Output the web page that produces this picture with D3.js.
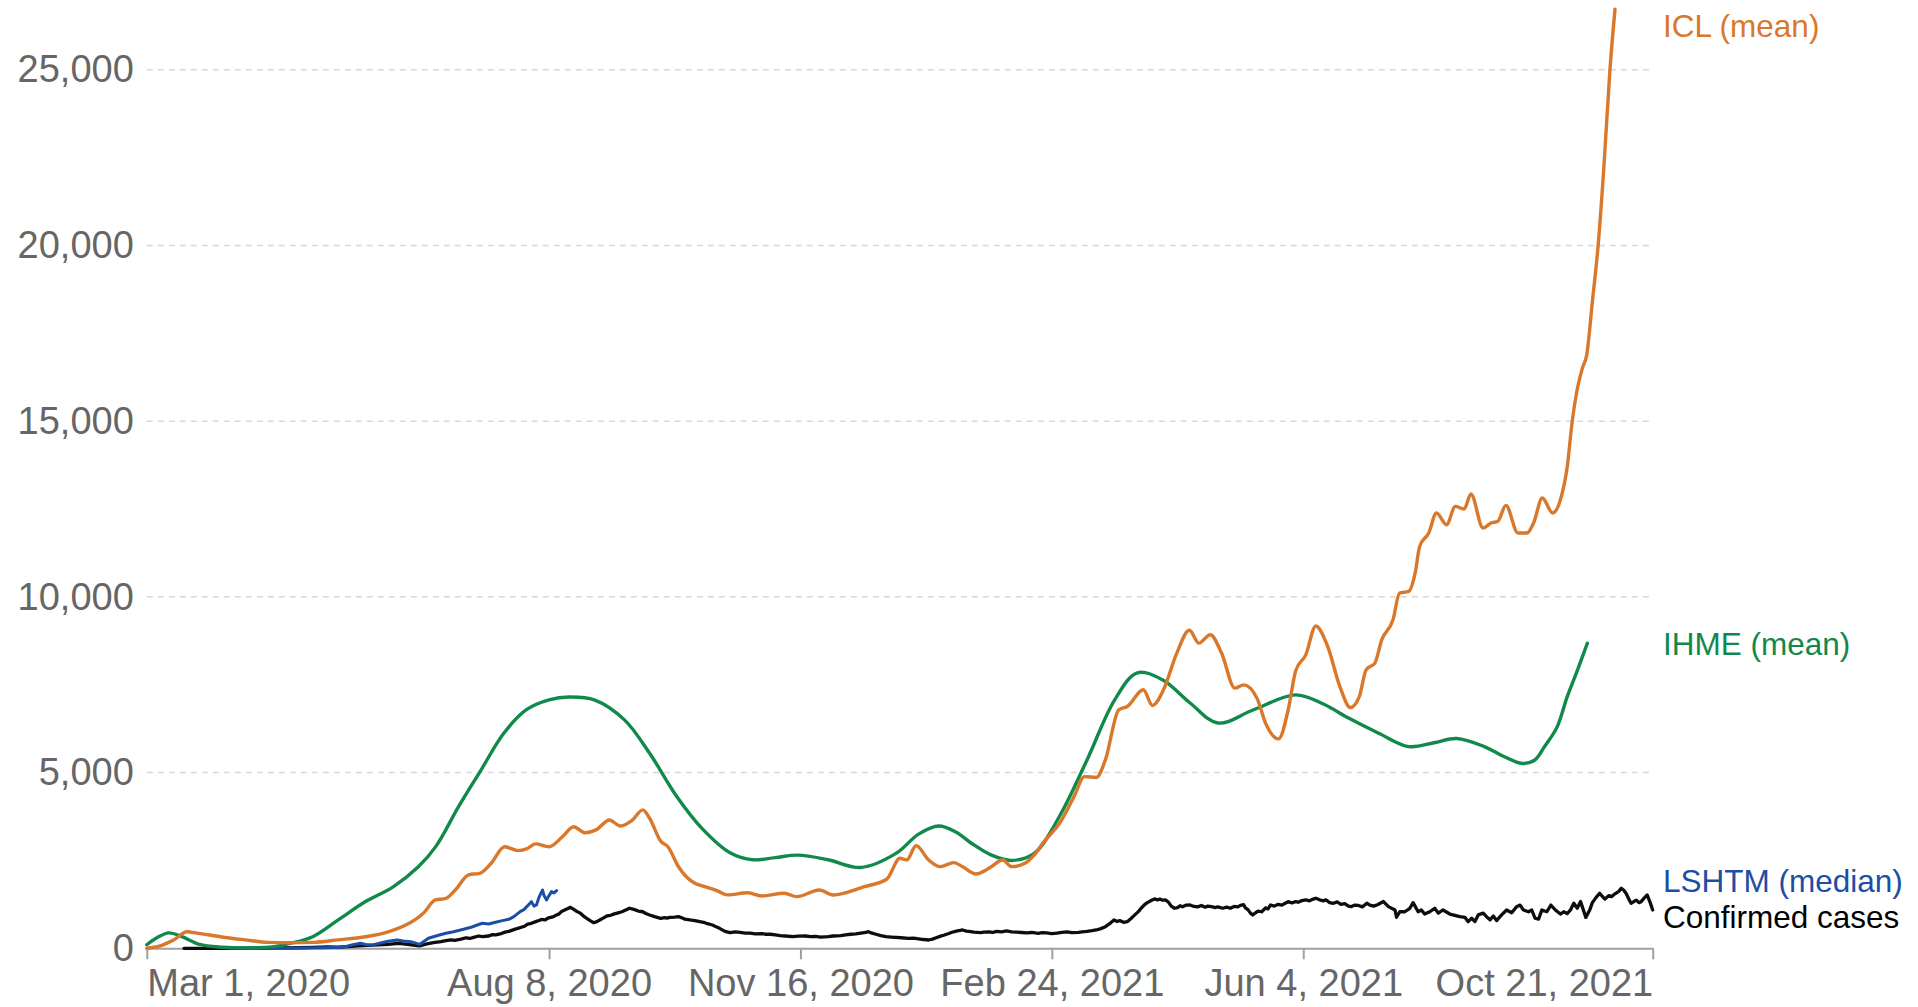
<!DOCTYPE html>
<html>
<head>
<meta charset="utf-8">
<script src="https://cdn.jsdelivr.net/npm/d3@7"></script>
<style>
  html, body { margin: 0; padding: 0; background: #fff; }
  svg { display: block; font-family: "Liberation Sans", Arial, sans-serif; }
</style>
</head>
<body>
<svg id="chart" width="1918" height="1007"></svg>
<script>
// ---- DATA: [day offset from Mar 1, 2020, value] ----
const startDate = new Date(2020, 2, 1);
const endDate = new Date(2021, 9, 21);

const yTicks = [0, 5000, 10000, 15000, 20000, 25000];
const xTickDates = ["2020-03-01", "2020-08-08", "2020-11-16", "2021-02-24", "2021-06-04", "2021-10-21"];
const xTickLabels = ["Mar 1, 2020", "Aug 8, 2020", "Nov 16, 2020", "Feb 24, 2021", "Jun 4, 2021", "Oct 21, 2021"];

const seriesNames = ["ICL (mean)", "IHME (mean)", "LSHTM (median)", "Confirmed cases"];

const icl = [[0,0],[5,60],[10.8,240],[16,470],[20,430],[25,380],[32,300],[39,240],[48,170],[57,160],[66,170],[76,240],[87,330],[96,470],[103,660],[110,1000],[114.8,1375],[119,1420],[122.7,1660],[128,2090],[132.5,2135],[137,2420],[142.3,2890],[147.6,2780],[151,2830],[154.7,2970],[160,2890],[165.4,3180],[169.8,3460],[174.2,3290],[178.7,3370],[184,3650],[188.4,3480],[192.9,3630],[197.3,3940],[200,3700],[204.4,3050],[207.3,2890],[211.5,2320],[218,1850],[220,1800],[226.8,1640],[231,1520],[239,1580],[244.5,1490],[253.5,1565],[258.6,1470],[267.6,1660],[273,1518],[285.4,1754],[294.3,1964],[299.6,2562],[302.3,2515],[306,2921],[311,2514],[315.6,2323],[321,2437],[324.5,2323],[329.8,2115],[335,2278],[340.5,2514],[344,2323],[349.3,2420],[353,2657],[356.4,2990],[363.5,3605],[368.8,4317],[373,4886],[377.7,4860],[381.3,5362],[386.6,6785],[390,6880],[396.4,7355],[400,6910],[404.4,7355],[409.7,8400],[414.7,9050],[418.5,8684],[423,8921],[427.5,8400],[432.8,7403],[436.3,7497],[441.6,7118],[445,6407],[450.2,5960],[454,6785],[457,7900],[461,8350],[465,9170],[469.5,8630],[474.8,7400],[478.7,6850],[482.3,7164],[485,7924],[488.5,8115],[491.2,8778],[495.7,9347],[498.3,10107],[501.9,10154],[504.5,10677],[506.3,11435],[509.9,11817],[513,12386],[517,12053],[520.5,12574],[524,12500],[526.7,12927],[531.5,11959],[534.7,12101],[537.4,12150],[540.6,12602],[545.4,11817],[549,11817],[551.6,12101],[555.1,12813],[559.2,12386],[562.3,12765],[565,13700],[567,15000],[568.7,15800],[571,16500],[572.8,16900],[575,18400],[577.3,20000],[579.6,22250],[582,25000],[584,26720]];

const ihme = [[0,100],[4,300],[8.7,440],[14,330],[21,110],[30,30],[39,10],[50,40],[57,140],[66,330],[76,800],[87,1330],[98,1750],[108,2320],[115,2900],[124,4030],[133,5080],[142,6120],[151,6790],[160,7070],[168,7150],[178,7070],[190,6500],[200,5550],[211,4300],[221,3400],[232,2720],[241,2520],[250,2580],[259,2650],[271,2520],[284,2300],[298,2700],[307,3250],[315,3480],[322,3300],[328,2990],[336,2650],[344,2500],[353,2700],[363,3750],[374,5360],[385,7070],[394,7840],[404,7640],[415,6980],[426,6410],[440,6780],[457,7210],[468,6950],[478,6550],[490,6120],[502,5740],[512,5850],[521,5970],[532,5740],[540,5450],[547,5260],[552,5350],[556,5740],[561,6300],[565,7160],[569,7900],[573,8680]];

const lshtm = [[40,0],[50,5],[60,10],[70,15],[78,30],[82,100],[85,145],[87,110],[89.5,90],[93,150],[96,200],[99.6,236],[102,210],[105,190],[108.5,110],[112,285],[116,370],[119,427],[122,470],[126,541],[129,600],[133.4,712],[136,690],[138.7,740],[141,780],[144,825],[146,900],[148.5,1043],[150,1100],[153,1327],[154,1200],[155,1233],[156,1450],[157.4,1660],[158,1500],[159,1375],[160,1500],[161,1613],[162,1580],[163,1640]];

const confirmed = [[14.8,0],[30,0],[45,5],[60,15],[66,25],[72,40],[76,35],[80,50],[84,70],[88,85],[92,95],[96,110],[100,140],[103,120],[106,90],[108.5,70],[111,120],[114,160],[117,190],[119,217],[121,240],[122.5,225],[125,260],[127,300],[128.5,280],[130,313],[132,350],[133.5,330],[136,350],[137.5,390],[138.7,380],[141,420],[142.5,460],[144,480],[146,530],[147.6,569],[149,600],[150,620],[151.5,690],[152.5,700],[154.7,758],[156,790],[157,820],[158.5,810],[159.5,860],[161.8,900],[163,950],[164,980],[165,1050],[166,1080],[167.5,1130],[168.5,1167],[170,1100],[171,1050],[172.5,996],[174,900],[175,850],[176.5,780],[177.8,729],[179,760],[180,800],[181.5,860],[183,920],[184.5,940],[186,980],[187.5,1010],[189,1040],[190.5,1090],[192,1139],[193,1120],[194,1100],[195.5,1060],[197.3,1040],[198.5,990],[200,948],[202,900],[203,880],[204.4,854],[206,870],[207,860],[208,880],[210,890],[211.5,900],[213,860],[214,830],[216,806],[218,790],[220,758],[221.5,740],[223,700],[225,663],[226.5,610],[228,560],[230,480],[232,444],[234,470],[236,450],[238,430],[240,430],[242,410],[244.5,420],[246,400],[248,400],[250,380],[252,360],[254,350],[257,330],[259,345],[262,350],[264,330],[266,340],[268,320],[271,330],[273,350],[276,360],[278,380],[280,400],[282,410],[284,430],[286,450],[287,473],[288.5,430],[290,400],[292,360],[294,330],[296,320],[298,310],[300,300],[303,285],[305,290],[307,270],[309,250],[311,236],[312.5,260],[314,300],[315.5,340],[317.3,379],[319,420],[320,450],[322,490],[324.5,521],[326,490],[327,480],[329,460],[331.6,444],[333,460],[335,470],[336.5,450],[338,480],[340,470],[342,493],[344,470],[346,460],[348,450],[350,440],[352,450],[354.6,427],[356,445],[358,440],[360,420],[362,430],[364,450],[366,470],[368,445],[370.6,455],[372,470],[374,480],[376,500],[377.7,521],[379.5,560],[381.3,615],[383,700],[384.7,806],[386,760],[387,790],[388.5,740],[390,758],[391.5,850],[393,950],[394.5,1050],[395.5,1139],[397,1250],[398,1300],[399.5,1360],[400.8,1404],[402,1380],[403,1400],[404,1370],[405.3,1375],[406.5,1300],[407.5,1200],[408.8,1139],[410,1160],[411,1210],[412,1180],[413.5,1230],[415,1233],[416.5,1190],[418,1180],[419.5,1220],[421,1170],[422,1200],[423.5,1185],[425,1160],[426,1180],[428,1140],[429.5,1170],[431,1139],[432.5,1190],[434,1180],[435,1220],[436.3,1240],[437,1150],[438,1100],[439,1000],[439.9,948],[441,1010],[442,1060],[443.5,1040],[445,1150],[446,1120],[447,1233],[448.5,1200],[450,1250],[451.5,1230],[453,1290],[454,1327],[455.5,1290],[457,1330],[458,1310],[459.5,1360],[461,1380],[462.5,1350],[464,1400],[465,1424],[466.5,1380],[468,1350],[469,1380],[470.5,1300],[472,1281],[473.5,1320],[475,1250],[476.5,1270],[478,1200],[479,1185],[480.5,1230],[482,1220],[483.5,1180],[485.3,1281],[486.5,1230],[488,1200],[489.5,1240],[490.6,1281],[491.9,1330],[493.9,1185],[496.5,1090],[497.1,883],[498.4,1040],[500.4,1040],[502.4,1139],[503.7,1300],[505.7,1040],[507,1090],[508.3,975],[510.3,1040],[512.3,1139],[513.7,1000],[515.6,1090],[518.3,975],[522.3,900],[524.3,880],[525.6,758],[527,855],[528.3,760],[529.6,950],[531.6,1000],[532.9,900],[534.3,810],[535.6,920],[536.9,790],[538.9,950],[540.9,1090],[542.9,1010],[544.9,1185],[546.2,1230],[547.6,1090],[549.6,1040],[550.9,1090],[552.2,855],[553.6,830],[554.9,1090],[556.9,1040],[558.5,1230],[560.3,1090],[562.3,975],[563.6,1040],[565,990],[566.3,1090],[567.6,1281],[569,1139],[570.3,1330],[572.4,880],[574,1100],[575,1300],[576.5,1450],[577.9,1566],[579,1480],[580,1400],[581.5,1500],[582.6,1470],[584,1550],[585.5,1620],[586.5,1708],[587.5,1650],[588.5,1550],[589.5,1400],[590.4,1281],[591.5,1330],[592.5,1370],[593.5,1300],[594.4,1327],[595.5,1420],[596.8,1518],[598,1300],[599,1090]];

// ---- CHART ----
const svg = d3.select("#chart");
const x = d3.scaleTime().domain([startDate, endDate]).range([146.8, 1652.7]);
const y = d3.scaleLinear().domain([0, 25000]).range([948.3, 69.7]);

function mk(pairs) {
  return pairs.map(([d, v]) => ({ date: new Date(startDate.getTime() + d * 86400000), value: v }));
}

const colors = { icl: "#d9782b", ihme: "#11894a", lshtm: "#1d4ea6", cases: "#0d0d0d" };

// gridlines
svg.append("g").selectAll("line")
  .data(yTicks.filter(t => t > 0))
  .join("line")
  .attr("x1", x.range()[0]).attr("x2", x.range()[1])
  .attr("y1", d => y(d)).attr("y2", d => y(d))
  .attr("stroke", "#d8d8d8").attr("stroke-width", 1.5)
  .attr("stroke-dasharray", "6,5");

// y labels
const yAxis = d3.axisLeft(y).tickValues(yTicks).tickFormat(d3.format(",")).tickSize(0).tickPadding(13);
const gy = svg.append("g").attr("transform", `translate(${x.range()[0]},0)`).call(yAxis);
gy.select(".domain").remove();
gy.selectAll("text").attr("font-size", 38).attr("fill", "#666").attr("font-family", "Liberation Sans, Arial, sans-serif");

// x axis
const parse = d3.timeParse("%Y-%m-%d");
const xTickVals = xTickDates.map(parse);
const xAxis = d3.axisBottom(x).tickValues(xTickVals).tickFormat((d, i) => xTickLabels[i]).tickSize(11).tickSizeOuter(0).tickPadding(10);
const gx = svg.append("g").attr("transform", `translate(0,${y(0)})`).call(xAxis);
gx.select(".domain").attr("stroke", "#a0a0a0").attr("stroke-width", 2);
gx.selectAll(".tick line").attr("stroke", "#a0a0a0").attr("stroke-width", 2);
gx.selectAll("text").attr("font-size", 38).attr("fill", "#666").attr("font-family", "Liberation Sans, Arial, sans-serif")
  .attr("text-anchor", (d, i) => i === 0 ? "start" : (i === xTickLabels.length - 1 ? "end" : "middle"))
  .attr("dy", "0.71em");

// lines
const smooth = d3.line().x(d => x(d.date)).y(d => y(d.value)).curve(d3.curveMonotoneX);
const verySmooth = d3.line().x(d => x(d.date)).y(d => y(d.value)).curve(d3.curveCatmullRom.alpha(0.5));
const linear = d3.line().x(d => x(d.date)).y(d => y(d.value));

const lines = [
  { data: mk(confirmed), color: colors.cases, gen: linear, w: 3.3 },
  { data: mk(lshtm), color: colors.lshtm, gen: linear, w: 3 },
  { data: mk(ihme), color: colors.ihme, gen: verySmooth, w: 3.4 },
  { data: mk(icl), color: colors.icl, gen: smooth, w: 3.4 }
];
svg.append("g").selectAll("path").data(lines).join("path")
  .attr("d", d => d.gen(d.data))
  .attr("fill", "none").attr("stroke", d => d.color).attr("stroke-width", d => d.w)
  .attr("stroke-linejoin", "round").attr("stroke-linecap", "round");

// end labels
const labelInfo = [
  { name: seriesNames[0], color: colors.icl, yPos: 37.3 },
  { name: seriesNames[1], color: colors.ihme, yPos: 655 },
  { name: seriesNames[2], color: colors.lshtm, yPos: 891.7 },
  { name: seriesNames[3], color: "#000", yPos: 928.3 }
];
svg.append("g").selectAll("text").data(labelInfo).join("text")
  .attr("x", 1663).attr("y", d => d.yPos)
  .attr("font-size", 31.5).attr("fill", d => d.color)
  .text(d => d.name);
</script>
</body>
</html>
